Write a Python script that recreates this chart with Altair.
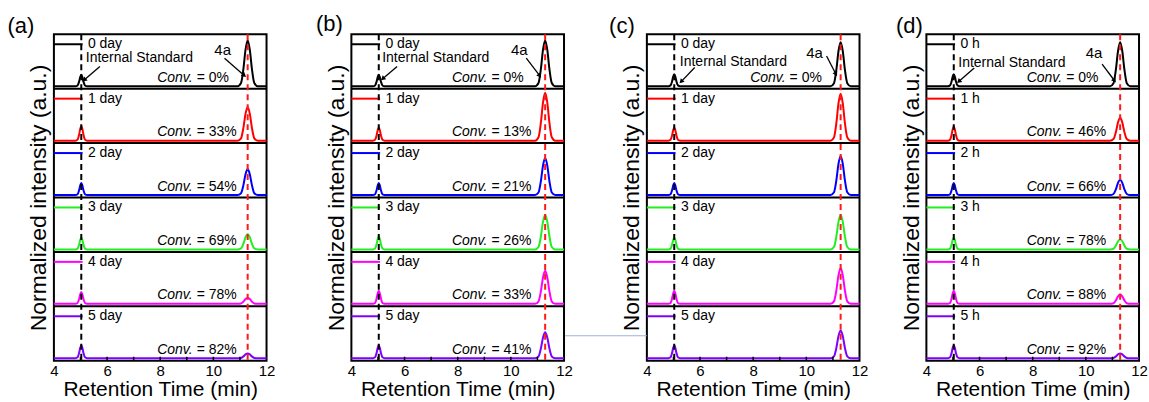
import math
import altair as alt
import pandas as pd

# ---------------- data ----------------
X_DOMAIN = [4, 12]
X_TICKS = [4, 6, 8, 10, 12]
MINOR_TICKS = [5, 6, 7, 8, 9, 10, 11]

IS_RT = 5.03      # internal standard retention time (black dashed line)
P4A_RT = 11.29    # product 4a retention time (red dashed line)

# peak profiles (offset in min, relative height)
IS_DX = [-0.22, -0.14, -0.085, -0.04, 0.0, 0.04, 0.085, 0.14, 0.22]
IS_SHAPE = [0.0, 0.07, 0.38, 0.8, 1.0, 0.8, 0.38, 0.07, 0.0]
P4A_DX = [-0.38, -0.25, -0.16, -0.08, 0.0, 0.08, 0.16, 0.25, 0.38]
P4A_SHAPE = [0.0, 0.07, 0.38, 0.8, 1.0, 0.8, 0.38, 0.07, 0.0]

ROW_COLORS = ["#000000", "#ff0000", "#0000ff", "#22ee22", "#ff00ff", "#7f00ff"]
ROW_KEYS = ["r0", "r1", "r2", "r3", "r4", "r5"]

DAY_LABELS = ["0 day", "1 day", "2 day", "3 day", "4 day", "5 day"]
HOUR_LABELS = ["0 h", "1 h", "2 h", "3 h", "4 h", "5 h"]

# peak heights as a fraction of one stacked row (top row first)
A_IS = [0.21, 0.27, 0.22, 0.22, 0.22, 0.24]
A_4A = [0.84, 0.62, 0.48, 0.28, 0.11, 0.09]
B_IS = [0.21, 0.24, 0.22, 0.24, 0.24, 0.24]
B_4A = [0.84, 0.88, 0.68, 0.64, 0.61, 0.48]
C_IS = [0.22, 0.24, 0.22, 0.22, 0.24, 0.24]
C_4A = [0.81, 0.86, 0.72, 0.64, 0.66, 0.51]
D_IS = [0.22, 0.26, 0.22, 0.22, 0.24, 0.24]
D_4A = [0.81, 0.42, 0.28, 0.19, 0.17, 0.09]

A_CONV = ["0%", "33%", "54%", "69%", "78%", "82%"]
B_CONV = ["0%", "13%", "21%", "26%", "33%", "41%"]
C_CONV = ["0%", "", "", "", "", ""]
D_CONV = ["0%", "46%", "66%", "78%", "88%", "92%"]

PANEL_LETTERS = ["(a)", "(b)", "(c)", "(d)"]

# ---------------- layout / style ----------------
W, H = 213, 327
BASE = 0.045
FONT = "Liberation Sans"
PX_X = W / 8.0
PX_Y = H / 6.0

XSC = alt.Scale(domain=X_DOMAIN, nice=False, zero=False)
YSC = alt.Scale(domain=[0, 6], nice=False, zero=False)
X_AXIS = alt.Axis(
    title="Retention Time (min)", values=X_TICKS, labelFontSize=15,
    titleFontSize=21, titleFontWeight="normal", ticks=False, tickSize=0,
    domain=False, grid=False, labelPadding=3, labelColor="black",
    titleColor="black", titleY=35, titleBaseline="alphabetic", labelFlush=False)
Y_AXIS = alt.Axis(
    title="Normalized intensity (a.u.)", labels=False, ticks=False, tickSize=0,
    domain=False, grid=False, titleFontSize=23, titleFontWeight="normal",
    titleColor="black", titleX=-8, titleBaseline="alphabetic")


def X(f):
    return alt.X(f, scale=XSC, axis=X_AXIS)


def Y(f):
    return alt.Y(f, scale=YSC, axis=Y_AXIS)


def arrow_angle(x1, y1, x2, y2):
    dx = (x2 - x1) * PX_X
    dy = -(y2 - y1) * PX_Y
    return math.degrees(math.atan2(dx, -dy)) % 360


def panel(letter, labels, is_h, p4a_h, conv, conv_x, is_lab, is_arr,
          p4a_lab, p4a_arr, letter_pos, extra_line=False):
    rows = []
    for r in range(6):
        base = (5 - r) + BASE
        pts = [(4.0, base)]
        pts += [(IS_RT + d, base + is_h[r] * s) for d, s in zip(IS_DX, IS_SHAPE)]
        pts += [(P4A_RT + d, base + p4a_h[r] * s) for d, s in zip(P4A_DX, P4A_SHAPE)]
        pts += [(12.0, base)]
        for i, (x, y) in enumerate(pts):
            rows.append({"x": x, "y": y, "row": ROW_KEYS[r], "i": i})
    tr = pd.DataFrame(rows)

    color = alt.Color("row:N", scale=alt.Scale(domain=ROW_KEYS, range=ROW_COLORS), legend=None)

    traces = alt.Chart(tr).mark_line(strokeWidth=2, interpolate="monotone").encode(
        x=X("x:Q"), y=Y("y:Q"), color=color, detail="row:N", order="i:Q")

    sep = alt.Chart(pd.DataFrame({"y": [1, 2, 3, 4, 5]})).mark_rule(
        color="black", strokeWidth=2).encode(y=Y("y:Q"))

    dashed = alt.Chart(pd.DataFrame({"x": [IS_RT, P4A_RT], "c": ["#000000", "#ff1a1a"]})).mark_rule(
        strokeDash=[6, 4], strokeWidth=2).encode(x=X("x:Q"), color=alt.Color("c:N", scale=None))

    leg = pd.DataFrame({
        "x": [4.0] * 6, "x2": [IS_RT + 0.05] * 6,
        "y": [(5 - r) + 0.817 for r in range(6)],
        "row": ROW_KEYS, "lab": labels, "lx": [5.28] * 6,
    })
    leg_lines = alt.Chart(leg).mark_rule(strokeWidth=2).encode(
        x=X("x:Q"), x2="x2:Q", y=Y("y:Q"), color=color)
    leg_text = alt.Chart(leg).mark_text(align="left", baseline="middle", fontSize=14,
                                        color="black").encode(
        x=X("lx:Q"), y=Y("y:Q"), text="lab:N")

    cv = pd.DataFrame({
        "x": [conv_x] * 6, "y": [(5 - r) + 0.2 for r in range(6)],
        "val": ["= " + c if c else "" for c in conv],
        "cw": ["Conv." if c else "" for c in conv],
    })
    cv = cv[cv["val"] != ""]
    conv_word = alt.Chart(cv).mark_text(align="right", baseline="middle", fontSize=14,
                                        fontStyle="italic", dx=-4, color="black").encode(
        x=X("x:Q"), y=Y("y:Q"), text="cw:N")
    conv_val = alt.Chart(cv).mark_text(align="left", baseline="middle", fontSize=14,
                                       color="black").encode(
        x=X("x:Q"), y=Y("y:Q"), text="val:N")

    ann = pd.DataFrame({
        "x": [is_lab[0], p4a_lab[0]], "y": [5 + is_lab[1], 5 + p4a_lab[1]],
        "t": ["Internal Standard", "4a"],
    })
    ann_is = alt.Chart(ann.iloc[[0]]).mark_text(align="left", baseline="middle", fontSize=14,
                                                color="black").encode(
        x=X("x:Q"), y=Y("y:Q"), text="t:N")
    ann_4a = alt.Chart(ann.iloc[[1]]).mark_text(align="center", baseline="middle", fontSize=15,
                                                color="black").encode(
        x=X("x:Q"), y=Y("y:Q"), text="t:N")

    arr = pd.DataFrame({
        "x": [is_arr[0], p4a_arr[0]], "y": [5 + is_arr[1], 5 + p4a_arr[1]],
        "x2": [is_arr[2], p4a_arr[2]], "y2": [5 + is_arr[3], 5 + p4a_arr[3]],
    })
    arr["ang"] = [arrow_angle(a, b, c, d) for a, b, c, d in
                  zip(arr["x"], arr["y"], arr["x2"], arr["y2"])]
    arrows = alt.Chart(arr).mark_rule(strokeWidth=1.3, color="black").encode(
        x=X("x:Q"), y=Y("y:Q"), x2="x2:Q", y2="y2:Q")
    heads = alt.Chart(arr).mark_point(shape="triangle", filled=True, size=28, color="black",
                                      opacity=1).encode(
        x=X("x2:Q"), y=Y("y2:Q"), angle=alt.Angle("ang:Q", scale=None))

    tk = pd.DataFrame({"x": MINOR_TICKS})
    ticks = alt.Chart(tk).mark_rule(color="black", strokeWidth=1.5).encode(
        x=X("x:Q"), y=alt.value(H), y2=alt.value(H - 4))

    lt = alt.Chart(pd.DataFrame({"t": [letter]})).mark_text(
        fontSize=22, align="center", baseline="middle", color="black").encode(
        x=alt.value(letter_pos[0]), y=alt.value(letter_pos[1]), text="t:N")

    layers = [traces, sep, leg_lines, leg_text, conv_word, conv_val, ann_is, ann_4a,
              arrows, heads, ticks, dashed, lt]
    if extra_line:
        ln = alt.Chart(pd.DataFrame({"k": [0]})).mark_rule(color="#9ab3da", strokeWidth=1).encode(
            x=alt.value(-82), x2=alt.value(0), y=alt.value(302))
        layers.append(ln)
    return alt.layer(*layers).properties(
        width=W, height=H, view=alt.ViewBackground(stroke="black", strokeWidth=2))


def spacer(w):
    return alt.Chart(pd.DataFrame({"k": [0]})).mark_point(opacity=0).encode(
        x=alt.value(0), y=alt.value(0)).properties(width=w, height=H)


pa = panel(PANEL_LETTERS[0], DAY_LABELS, A_IS, A_4A, A_CONV, 9.37,
           (5.2, 0.56), (5.73, 0.41, 5.16, 0.17), (10.35, 0.71), (10.42, 0.56, 11.14, 0.25),
           (-33, -8))
pb = panel(PANEL_LETTERS[1], DAY_LABELS, B_IS, B_4A, B_CONV, 9.27,
           (5.16, 0.56), (5.72, 0.41, 5.2, 0.19), (10.32, 0.71), (10.58, 0.56, 11.07, 0.25),
           (-22, -10))
pc = panel(PANEL_LETTERS[2], DAY_LABELS, C_IS, C_4A, C_CONV, 9.37,
           (5.24, 0.49), (5.8, 0.39, 5.31, 0.14), (10.31, 0.65), (10.76, 0.6, 11.1, 0.28),
           (-25, -8), extra_line=True)
pd_ = panel(PANEL_LETTERS[3], HOUR_LABELS, D_IS, D_4A, D_CONV, 9.26,
            (5.2, 0.47), (5.8, 0.38, 5.24, 0.14), (10.31, 0.65), (10.61, 0.45, 11.06, 0.16),
            (-17, -8))

chart = alt.hconcat(pa, spacer(85), pb, spacer(83), pc, spacer(67), pd_,
                    spacing=0, bounds="flush").properties(
    padding={"left": 6, "top": 12, "right": 0, "bottom": 0}
).configure(font=FONT).configure_view(stroke="transparent")

chart.save("out.html", embed_options={"renderer": "svg", "actions": False})
